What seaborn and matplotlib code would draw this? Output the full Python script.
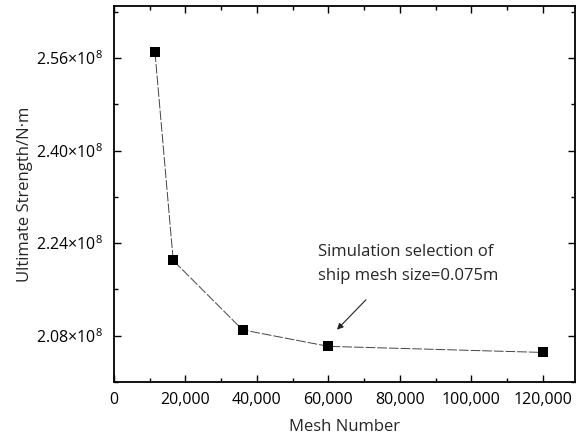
import matplotlib
matplotlib.use("Agg")
import matplotlib.pyplot as plt
from matplotlib.ticker import FixedLocator, MultipleLocator, FuncFormatter
import seaborn as sns
import pandas as pd

# Convergence study: ultimate strength against mesh count
mesh_number = [11500, 16600, 36000, 60000, 120000]
ultimate_strength = [2.570e8, 2.210e8, 2.090e8, 2.0615e8, 2.051e8]

x_ticks = [0, 20000, 40000, 60000, 80000, 100000, 120000]
y_ticks = [2.08e8, 2.24e8, 2.40e8, 2.56e8]
y_tick_labels = [r"2.08×10$^{8}$", r"2.24×10$^{8}$", r"2.40×10$^{8}$", r"2.56×10$^{8}$"]

note_text = "Simulation selection of\nship mesh size=0.075m"

sns.set_theme(style="ticks")
plt.rcParams["font.family"] = ["Open Sans", "DejaVu Sans"]
plt.rcParams["mathtext.fontset"] = "custom"
plt.rcParams["mathtext.rm"] = "Open Sans"

df = pd.DataFrame({"Mesh Number": mesh_number, "Ultimate Strength": ultimate_strength})

fig = plt.figure(figsize=(5.78, 4.34), dpi=100)
ax = fig.add_axes([0.197, 0.12, 0.798, 0.866])

sns.lineplot(data=df, x="Mesh Number", y="Ultimate Strength", ax=ax,
             color="#444444", linewidth=0.7, linestyle=(0, (10, 2)),
             marker="s", markersize=6.5, markerfacecolor="black",
             markeredgecolor="black", markeredgewidth=0)

ax.set_xlim(0, 129000)
ax.set_ylim(2.0e8, 2.65e8)

ax.xaxis.set_major_locator(FixedLocator(x_ticks))
ax.xaxis.set_minor_locator(MultipleLocator(10000))
ax.xaxis.set_major_formatter(FuncFormatter(lambda v, p: f"{int(v):,}"))
ax.yaxis.set_major_locator(FixedLocator(y_ticks))
ax.yaxis.set_minor_locator(MultipleLocator(0.08e8))
ax.set_yticklabels(y_tick_labels)

ax.tick_params(which="both", direction="in", top=True, right=True, colors="black",
               labelsize=11.5, width=1.0)
ax.tick_params(axis="y", which="major", pad=8)
ax.tick_params(axis="x", which="major", pad=7)
ax.tick_params(which="major", length=5)
ax.tick_params(which="minor", length=3)

for s in ax.spines.values():
    s.set_linewidth(1.3)
    s.set_color("black")

ax.set_xlabel("Mesh Number", fontsize=12, labelpad=8)
ax.set_ylabel("Ultimate Strength/N·m", fontsize=12, labelpad=2)

# Note on the chosen mesh, with an arrow pointing at that point
ax.text(57000, 2.239e8, note_text, fontsize=12, ha="left", va="top", linespacing=1.65)
ax.annotate("", xy=(62400, 2.0904e8), xytext=(70500, 2.142e8),
            arrowprops=dict(arrowstyle="-|>", color="#222222", lw=0.8,
                            mutation_scale=9, shrinkA=0, shrinkB=0))

fig.savefig("out.png", dpi=100)
